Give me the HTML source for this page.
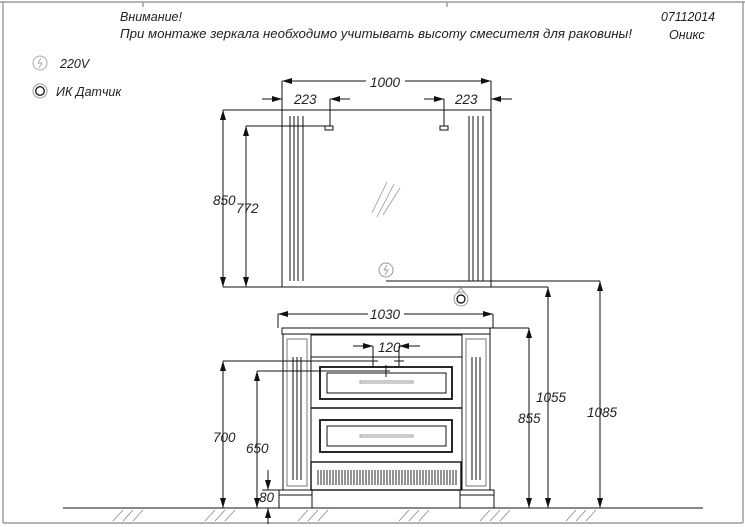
<!DOCTYPE html>
<html><head><meta charset="utf-8"><style>
html,body{margin:0;padding:0;background:#fff}
svg{display:block}
text{font-family:"Liberation Sans","DejaVu Sans",sans-serif;font-style:italic;fill:#222}
</style></head><body>
<svg width="745" height="527" viewBox="0 0 745 527" xmlns="http://www.w3.org/2000/svg">
<defs>
<marker id="a" viewBox="0 0 10 6" refX="10" refY="3" markerWidth="10" markerHeight="6" markerUnits="userSpaceOnUse" orient="auto-start-reverse"><path d="M0,0 L10,3 L0,6 Z" fill="#111"/></marker>
</defs>
<!-- frame -->
<g stroke="#888" stroke-width="1.2" fill="none">
<line x1="0" y1="2" x2="745" y2="2"/>
<line x1="3" y1="2" x2="3" y2="523"/>
<line x1="3" y1="523" x2="743" y2="523"/>
<line x1="743" y1="2" x2="743" y2="523"/>
<line x1="143" y1="2" x2="143" y2="7"/>
<line x1="447" y1="2" x2="447" y2="7"/>
</g>
<!-- header -->
<text x="120" y="21" font-size="12.5">Внимание!</text>
<text x="120" y="38" font-size="12.5" textLength="512" lengthAdjust="spacingAndGlyphs">При монтаже зеркала необходимо учитывать высоту смесителя для раковины!</text>
<text x="661" y="21" font-size="12.5" textLength="54" lengthAdjust="spacingAndGlyphs">07112014</text>
<text x="669" y="39" font-size="12.5">Оникс</text>
<!-- legend -->
<circle cx="40" cy="63" r="7" fill="none" stroke="#aaa" stroke-width="1"/>
<path d="M41,58 L38,63 L42,63 L39,68" fill="none" stroke="#aaa" stroke-width="0.9"/>
<text x="60" y="68" font-size="12.5">220V</text>
<circle cx="40" cy="91" r="7" fill="none" stroke="#999" stroke-width="1"/>
<circle cx="40" cy="91" r="4.3" fill="none" stroke="#222" stroke-width="1.4"/>
<text x="56" y="96" font-size="12.5">ИК  Датчик</text>

<g stroke="#111" stroke-width="1" fill="none">
<!-- mirror -->
<rect x="282" y="110" width="209" height="177"/>
<line x1="290" y1="116" x2="290" y2="281"/><line x1="294" y1="116" x2="294" y2="281"/><line x1="298" y1="116" x2="298" y2="281"/><line x1="303" y1="116" x2="303" y2="281"/>
<line x1="469" y1="116" x2="469" y2="281"/><line x1="473" y1="116" x2="473" y2="281"/><line x1="478" y1="116" x2="478" y2="281"/><line x1="483" y1="116" x2="483" y2="281"/>
<!-- 1000 -->
<line x1="282" y1="81" x2="282" y2="110"/><line x1="491" y1="81" x2="491" y2="110"/>
<line x1="282" y1="81" x2="366" y2="81" marker-start="url(#a)"/>
<line x1="405" y1="81" x2="491" y2="81" marker-end="url(#a)"/>
<!-- 223 -->
<line x1="262" y1="99" x2="282" y2="99" marker-end="url(#a)"/>
<line x1="350" y1="99" x2="330" y2="99" marker-end="url(#a)"/>
<line x1="330" y1="99" x2="330" y2="126"/>
<rect x="325" y="126" width="8" height="4"/>
<line x1="424" y1="99" x2="444" y2="99" marker-end="url(#a)"/>
<line x1="444" y1="99" x2="444" y2="126"/>
<rect x="440" y="126" width="8" height="4"/>
<line x1="512" y1="99" x2="491" y2="99" marker-end="url(#a)"/>
<!-- 850 / 772 -->
<line x1="223" y1="110" x2="282" y2="110"/>
<line x1="223" y1="110" x2="223" y2="287" marker-start="url(#a)" marker-end="url(#a)"/>
<line x1="246" y1="126" x2="330" y2="126"/>
<line x1="246" y1="126" x2="246" y2="287" marker-start="url(#a)" marker-end="url(#a)"/>
<line x1="223" y1="287" x2="548" y2="287"/>
<!-- glare -->
<g stroke="#999" stroke-width="0.8"><line x1="372" y1="213" x2="387" y2="182"/><line x1="377" y1="217" x2="394" y2="184"/><line x1="383" y1="215" x2="400" y2="188"/></g>
<!-- 220v line -->
<line x1="386" y1="281" x2="600" y2="281"/>
<!-- 1055 / 1085 -->
<line x1="548" y1="287" x2="548" y2="508" marker-start="url(#a)" marker-end="url(#a)"/>
<line x1="600" y1="281" x2="600" y2="508" marker-start="url(#a)" marker-end="url(#a)"/>
<!-- 1030 -->
<line x1="278" y1="314" x2="278" y2="328"/><line x1="493" y1="314" x2="493" y2="328"/>
<line x1="278" y1="314" x2="368" y2="314" marker-start="url(#a)"/>
<line x1="404" y1="314" x2="493" y2="314" marker-end="url(#a)"/>
<!-- countertop -->
<rect x="282" y="328" width="208" height="6"/>
<line x1="490" y1="328" x2="529" y2="328"/>
<line x1="529" y1="328" x2="529" y2="508" marker-start="url(#a)" marker-end="url(#a)"/>
<!-- pilasters -->
<rect x="283" y="334" width="28" height="156"/>
<rect x="287" y="339" width="20" height="147" stroke="#777"/>
<line x1="293" y1="357" x2="293" y2="480"/><line x1="297" y1="357" x2="297" y2="480"/><line x1="301" y1="357" x2="301" y2="480"/>
<rect x="462" y="334" width="28" height="156"/>
<rect x="466" y="339" width="20" height="147" stroke="#777"/>
<line x1="472" y1="357" x2="472" y2="480"/><line x1="476" y1="357" x2="476" y2="480"/><line x1="480" y1="357" x2="480" y2="480"/>
<!-- top strip -->
<rect x="311" y="335" width="151" height="22"/>
<line x1="311" y1="408" x2="462" y2="408" stroke-width="1.6"/>
<!-- drawers -->
<rect x="320" y="367" width="132" height="32" stroke-width="1.8"/>
<rect x="327" y="373" width="119" height="20"/>
<rect x="360" y="381" width="53" height="2" stroke="#999"/>
<rect x="320" y="420" width="132" height="32" stroke-width="1.8"/>
<rect x="327" y="426" width="119" height="20"/>
<rect x="360" y="435" width="53" height="2" stroke="#999"/>
<!-- plinth -->
<rect x="311" y="462" width="150" height="28" stroke-width="1.4"/>
<!-- feet -->
<rect x="279" y="490" width="33" height="18"/>
<line x1="279" y1="495" x2="312" y2="495"/>
<rect x="460" y="490" width="34" height="18"/>
<line x1="460" y1="495" x2="494" y2="495"/>
<line x1="312" y1="508" x2="460" y2="508"/>
<!-- 120 -->
<line x1="353" y1="346" x2="373" y2="346" marker-end="url(#a)"/>
<line x1="420" y1="346" x2="399" y2="346" marker-end="url(#a)"/>
<line x1="373" y1="346" x2="373" y2="367"/><line x1="399" y1="346" x2="399" y2="367"/>
<line x1="368" y1="361" x2="378" y2="361"/><line x1="394" y1="361" x2="404" y2="361"/>
<line x1="386" y1="365" x2="386" y2="377"/>
<!-- 700 / 650 -->
<line x1="223" y1="361" x2="373" y2="361"/>
<line x1="223" y1="361" x2="223" y2="508" marker-start="url(#a)" marker-end="url(#a)"/>
<line x1="257" y1="371" x2="390" y2="371"/>
<line x1="257" y1="371" x2="257" y2="508" marker-start="url(#a)" marker-end="url(#a)"/>
<!-- 80 -->
<line x1="268" y1="470" x2="268" y2="490" marker-end="url(#a)"/>
<line x1="268" y1="524" x2="268" y2="508" marker-end="url(#a)"/>
<line x1="262" y1="490" x2="279" y2="490"/>
<!-- floor -->
<line x1="63" y1="508" x2="703" y2="508"/>
</g>
<!-- slats -->
<g stroke="#111" stroke-width="0.9">
<path d="M318,470v15M321,470v15M324,470v15M327,470v15M330,470v15M333,470v15M336,470v15M339,470v15M342,470v15M345,470v15M348,470v15M351,470v15M354,470v15M357,470v15M360,470v15M363,470v15M366,470v15M369,470v15M372,470v15M375,470v15M378,470v15M381,470v15M384,470v15M387,470v15M390,470v15M393,470v15M396,470v15M399,470v15M402,470v15M405,470v15M408,470v15M411,470v15M414,470v15M417,470v15M420,470v15M423,470v15M426,470v15M429,470v15M432,470v15M435,470v15M438,470v15M441,470v15M444,470v15M447,470v15M450,470v15M453,470v15M456,470v15"/>
</g>
<!-- hatch -->
<g stroke="#888" stroke-width="0.8">
<path d="M113,521l10,-11M123,521l10,-11M133,521l10,-11M205,521l10,-11M215,521l10,-11M225,521l10,-11M298,521l10,-11M308,521l10,-11M318,521l10,-11M399,521l10,-11M409,521l10,-11M419,521l10,-11M480,521l10,-11M490,521l10,-11M500,521l10,-11M566,521l10,-11M576,521l10,-11M586,521l10,-11"/>
</g>
<!-- symbols -->
<circle cx="386" cy="270" r="7" fill="#fff" stroke="#999" stroke-width="1"/>
<path d="M387,265 L384,270 L388,270 L385,275" fill="none" stroke="#999" stroke-width="0.9"/>
<circle cx="461" cy="299" r="7" fill="#fff" stroke="#999" stroke-width="1"/>
<path d="M457,293 L461,288 L465,293" fill="none" stroke="#999" stroke-width="1"/>
<circle cx="461" cy="299" r="4" fill="none" stroke="#222" stroke-width="1.4"/>
<!-- dimension texts -->
<g font-size="13.5">
<rect x="367" y="73" width="37" height="14" fill="#fff"/>
<text x="370" y="87">1000</text>
<text x="294" y="104">223</text>
<text x="455" y="104">223</text>
<text x="213" y="205">850</text>
<text x="236" y="213">772</text>
<rect x="369" y="306" width="34" height="14" fill="#fff"/>
<text x="370" y="319">1030</text>
<text x="378" y="352">120</text>
<text x="213" y="442">700</text>
<text x="246" y="453">650</text>
<text x="259" y="502">80</text>
<text x="518" y="423">855</text>
<text x="536" y="402">1055</text>
<text x="587" y="417">1085</text>
</g>
</svg>
</body></html>
